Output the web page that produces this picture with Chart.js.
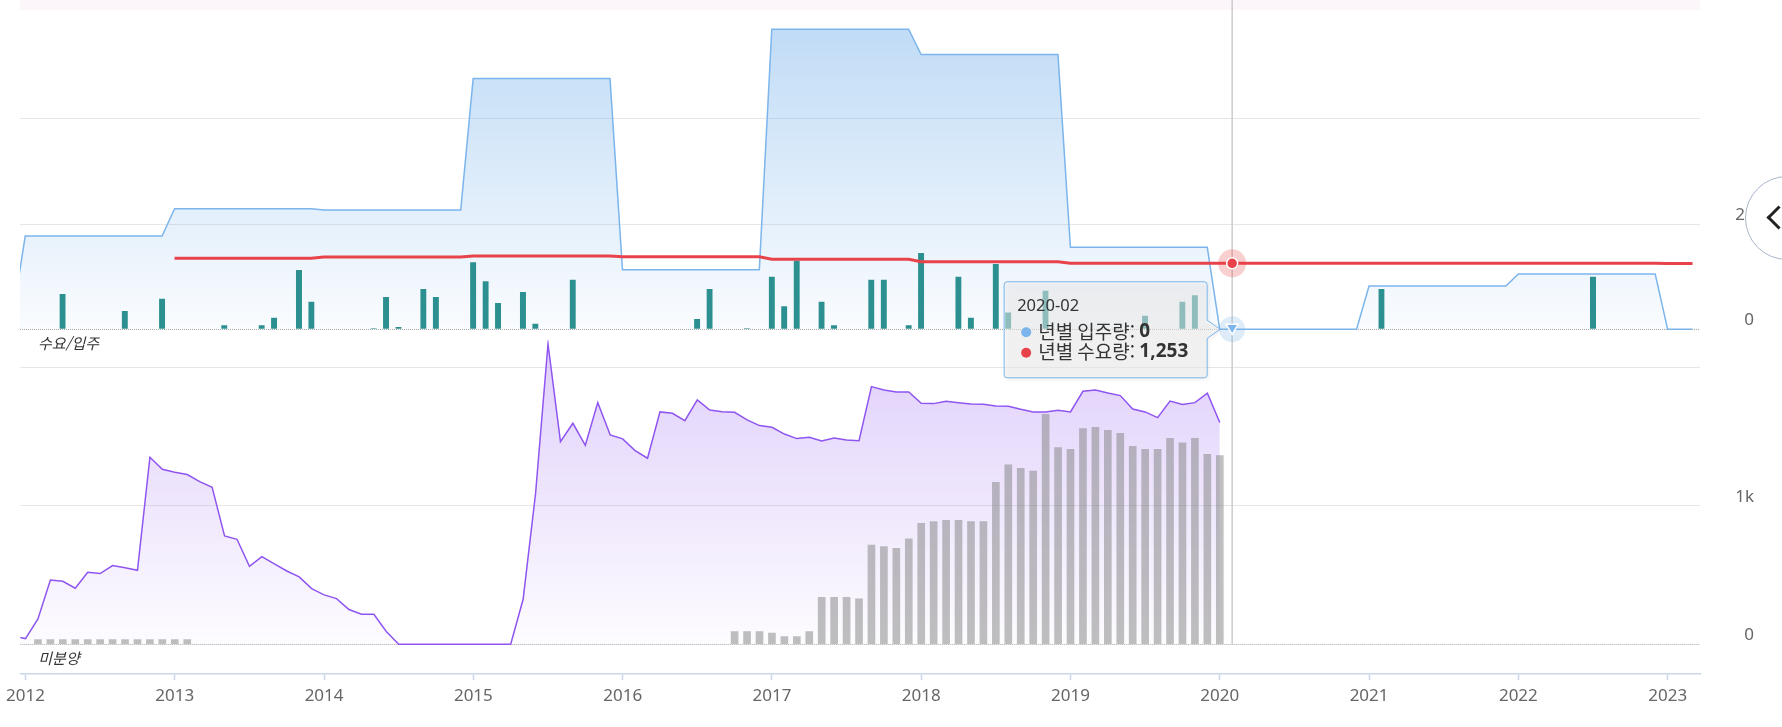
<!DOCTYPE html>
<html lang="ko">
<head>
<meta charset="utf-8">
<title>수요/입주 · 미분양</title>
<script src="https://cdn.jsdelivr.net/npm/chart.js@4.4.1/dist/chart.umd.min.js"></script>
<style>
  html, body { margin: 0; padding: 0; background: #fff; }
  #wrap { position: relative; width: 1782px; height: 727px; overflow: hidden; }
  .pane { position: absolute; left: 0; top: 0; width: 1782px; height: 727px; }
  #bottomPane { z-index: 1; }
  #topPane { z-index: 2; }
  #navBtn { position: absolute; z-index: 3; left: 1745px; top: 176px; width: 84px; height: 84px; border-radius: 50%;
            border: 1.5px solid #a9b5c9; background: #fff; box-sizing: border-box; }
  #navBtn::after { content: ''; position: absolute; left: 24px; top: 32px; width: 14px; height: 14px;
            border-left: 3px solid #222; border-bottom: 3px solid #222; transform: rotate(45deg); }
</style>
</head>
<body>
<div id="wrap">
  <div class="pane" id="bottomPane"><canvas id="bottomChart"></canvas></div>
  <div class="pane" id="topPane"><canvas id="topChart"></canvas></div>
  <div id="navBtn"></div>
</div>
<script>
// ---- data ----
const yearTicks = ['2012', '2013', '2014', '2015', '2016', '2017', '2018', '2019', '2020', '2021', '2022', '2023'];

// 년별 입주량 (annual move-in, blue area) - corner points of the stepped line
const annualSupplyMonths = ['2011-12', '2012-01', '2012-12', '2013-01', '2013-12', '2014-01', '2014-12', '2015-01',
  '2015-12', '2016-01', '2016-12', '2017-01', '2017-12', '2018-01', '2018-12', '2019-01', '2019-12', '2020-01',
  '2020-12', '2021-01', '2021-12', '2022-01', '2022-12', '2023-01', '2023-03'];
const annualSupplyValues = [260, 1770, 1770, 2290, 2290, 2266, 2266, 4762,
  4762, 1133, 1133, 5700, 5700, 5218, 5218, 1558, 1558, 0,
  0, 823, 823, 1051, 1051, 0, 0];

// 년별 수요량 (annual demand, red line)
const annualDemandMonths = ['2013-01', '2013-12', '2014-01', '2014-12', '2015-01', '2015-12', '2016-01', '2016-12',
  '2017-01', '2017-12', '2018-01', '2018-12', '2019-01', '2019-12', '2020-01', '2020-12', '2021-01', '2021-12',
  '2022-01', '2022-12', '2023-01', '2023-03'];
const annualDemandValues = [1348, 1348, 1374, 1374, 1393, 1393, 1378, 1378,
  1329, 1329, 1285, 1285, 1256, 1256, 1253, 1253, 1257, 1257,
  1256, 1256, 1250, 1250];

// monthly move-in (teal bars)
const moveInMonths = ['2012-04', '2012-09', '2012-12', '2013-05', '2013-08', '2013-09', '2013-11', '2013-12',
  '2014-05', '2014-06', '2014-07', '2014-09', '2014-10', '2015-01', '2015-02', '2015-03', '2015-05', '2015-06',
  '2015-09', '2016-07', '2016-08', '2016-11', '2017-01', '2017-02', '2017-03', '2017-05', '2017-06', '2017-09',
  '2017-10', '2017-12', '2018-01', '2018-04', '2018-05', '2018-07', '2018-08', '2018-11', '2019-07', '2019-10',
  '2019-11', '2021-02', '2022-07'];
const moveInValues = [684, 361, 595, 89, 89, 234, 1139, 538,
  19, 627, 57, 779, 627, 1285, 924, 513, 722, 120,
  956, 209, 779, 19, 1013, 449, 1317, 538, 89, 956,
  956, 89, 1462, 1013, 234, 1253, 334, 747, 272, 538,
  658, 779, 1013];

// 미분양 (unsold, purple) and completed unsold (gray bars), monthly from 2011-12
const unsoldStart = '2011-12';
const unsold = [60,
  41, 183, 465, 455, 405, 521, 511, 569, 554, 535, 1352, 1265,          // 2012
  1244, 1227, 1176, 1135, 783, 759, 564, 634, 581, 530, 487, 402,       // 2013
  357, 330, 251, 217, 217, 92, 0, 0, 0, 0, 0, 0,                        // 2014
  0, 0, 0, 0, 325, 1090, 2171, 1465, 1598, 1439, 1747, 1513,            // 2015
  1485, 1400, 1345, 1680, 1670, 1617, 1767, 1694, 1682, 1677, 1622, 1581, // 2016
  1569, 1520, 1487, 1497, 1470, 1492, 1477, 1472, 1863, 1839, 1824, 1824, // 2017
  1742, 1740, 1757, 1747, 1738, 1735, 1723, 1721, 1699, 1680, 1680, 1692, // 2018
  1680, 1829, 1839, 1817, 1798, 1701, 1680, 1639, 1759, 1733, 1747, 1815, // 2019
  1603];                                                                  // 2020-01
const completedUnsold = [null,
  null, 33, 33, 33, 33, 33, 33, 33, 33, 33, 33, 33,
  33, 33, null, null, null, null, null, null, null, null, null, null,
  null, null, null, null, null, null, null, null, null, null, null, null,
  null, null, null, null, null, null, null, null, null, null, null, null,
  null, null, null, null, null, null, null, null, null, 92, 92, 92,
  80, 55, 55, 92, 340, 340, 340, 328, 718, 706, 694, 762,
  875, 887, 897, 897, 887, 887, 1171, 1297, 1272, 1253, 1663, 1422,
  1410, 1559, 1569, 1547, 1526, 1432, 1410, 1410, 1489, 1456, 1489, 1374,
  1364];

const topTicks = [0, 2000, 4000];
const topTickLabels = ['0', '2k', ''];
const bottomTicks = [0, 1000, 2000];
const bottomTickLabels = ['0', '1k', ''];

const hoverMonth = '2020-02';

// ---- helpers ----
function monthIndex(s) {
  const [y, m] = s.split('-').map(Number);
  return (y - 2012) * 12 + (m - 1);
}
function toPoints(months, values) {
  return months.map((m, i) => ({ x: monthIndex(m), y: values[i] }));
}
function seriesFrom(start, values) {
  const s = monthIndex(start);
  return values.map((v, i) => ({ x: s + i, y: v }));
}
function valueAt(months, values, m) {
  const xs = months.map(monthIndex);
  for (let i = 0; i < xs.length - 1; i++) {
    if (m >= xs[i] && m <= xs[i + 1]) {
      const t = (m - xs[i]) / (xs[i + 1] - xs[i]);
      return values[i] + t * (values[i + 1] - values[i]);
    }
  }
  return null;
}

const FONT = "'Noto Sans', 'Noto Sans CJK KR', sans-serif";
const KFONT = "'Noto Sans CJK KR', 'Noto Sans', sans-serif";
const GRID = '#e6e6e6';

function vGradient(scaleId, topVal, botVal, c0, c1) {
  return function (ctx) {
    const chart = ctx.chart;
    const s = chart.scales[scaleId];
    if (!s || !chart.chartArea) return c1;
    const g = chart.ctx.createLinearGradient(0, s.getPixelForValue(topVal), 0, s.getPixelForValue(botVal));
    g.addColorStop(0, c0);
    g.addColorStop(1, c1);
    return g;
  };
}

function xAxis(show) {
  return {
    type: 'linear',
    display: show,
    min: -0.42,
    max: 134.6,
    offset: false,
    afterBuildTicks: s => { s.ticks = yearTicks.map(y => ({ value: monthIndex(y + '-01') })); },
    afterFit: s => { if (show) s.height = 53; },
    ticks: {
      callback: v => yearTicks[Math.round(v / 12)],
      autoSkip: false, maxRotation: 0, padding: 6,
      color: '#666', font: { size: 17 }
    },
    grid: { offset: false, drawOnChartArea: false, drawTicks: true, tickLength: 6, tickColor: '#ccd6eb', tickWidth: 1.5 },
    border: { display: true, color: '#ccd6eb', width: 1.5 }
  };
}

function yAxis(min, max, ticks, labels) {
  return {
    type: 'linear',
    position: 'right',
    min: min,
    max: max,
    afterBuildTicks: s => { s.ticks = ticks.map(v => ({ value: v })); },
    afterFit: s => { s.width = 54; },
    ticks: {
      callback: v => labels[ticks.indexOf(v)],
      crossAlign: 'far', padding: 0, labelOffset: -9,
      color: '#666', font: { size: 17 }
    },
    grid: { color: c => (c.tick && c.tick.value === 0) ? 'rgba(0,0,0,0)' : GRID, drawTicks: false },
    border: { display: false }
  };
}

function drawBaseline(chart, scaleId) {
  const { ctx, chartArea } = chart;
  const y = Math.round(chart.scales[scaleId].getPixelForValue(0)) + 0.5;
  ctx.save();
  ctx.strokeStyle = '#a8a8a8';
  ctx.lineWidth = 1;
  ctx.setLineDash([1, 1]);
  ctx.beginPath();
  ctx.moveTo(chartArea.left, y);
  ctx.lineTo(chartArea.right, y);
  ctx.stroke();
  ctx.restore();
}

function drawPaneTitle(chart, scaleId, text) {
  const { ctx, chartArea } = chart;
  ctx.save();
  ctx.font = 'italic 15px ' + KFONT;
  ctx.fillStyle = '#333';
  ctx.textBaseline = 'middle';
  ctx.fillText(text, chartArea.left + 18, chart.scales[scaleId].getPixelForValue(0) + 14);
  ctx.restore();
}

Chart.defaults.font.family = FONT;
Chart.defaults.color = '#666';

// ---------- bottom pane: 미분양 ----------
const bottomChart = new Chart(document.getElementById('bottomChart'), {
  type: 'line',
  data: {
    datasets: [
      {
        type: 'bar',
        label: '준공후 미분양',
        data: seriesFrom(unsoldStart, completedUnsold),
        yAxisID: 'y',
        backgroundColor: 'rgba(128,128,128,0.5)',
        barThickness: 7,
        grouped: false,
        order: 1
      },
      {
        label: '미분양',
        data: seriesFrom(unsoldStart, unsold),
        yAxisID: 'y',
        borderColor: '#8f55f0',
        borderWidth: 1.5,
        pointRadius: 0,
        fill: 'origin',
        backgroundColor: vGradient('y', 2200, 0, 'rgba(150,95,240,0.3)', 'rgba(150,95,240,0.02)'),
        order: 2
      }
    ]
  },
  options: {
    responsive: true,
    maintainAspectRatio: false,
    animation: false,
    events: [],
    layout: { padding: { top: 340, left: 20, right: 28, bottom: 0 } },
    plugins: { legend: { display: false }, tooltip: { enabled: false } },
    scales: {
      x: xAxis(true),
      y: yAxis(-215, 2200, bottomTicks, bottomTickLabels)
    }
  },
  plugins: [{
    id: 'bottomOverlay',
    beforeDatasetsDraw(chart) { drawBaseline(chart, 'y'); },
    afterDatasetsDraw(chart) { drawPaneTitle(chart, 'y', '미분양'); }
  }]
});

// ---------- top pane: 수요/입주 (with crosshair + tooltip) ----------
const topOverlay = {
  id: 'topOverlay',
  beforeDraw(chart) {
    const { ctx, chartArea } = chart;
    ctx.save();
    ctx.fillStyle = 'rgba(246,228,242,0.35)';
    ctx.fillRect(chartArea.left, 0, chartArea.right - chartArea.left, 10);
    ctx.restore();
  },
  beforeDatasetsDraw(chart) { drawBaseline(chart, 'y'); },
  afterDatasetsDraw(chart) {
    const { ctx, scales } = chart;
    drawPaneTitle(chart, 'y', '수요/입주');

    const m = monthIndex(hoverMonth);
    const x = scales.x.getPixelForValue(m);
    const y0 = scales.y.getPixelForValue(0);
    const yb0 = bottomChart.scales.y.getPixelForValue(0);

    ctx.save();
    // crosshair across both panes
    ctx.strokeStyle = '#cccccc';
    ctx.lineWidth = 1.5;
    ctx.beginPath();
    ctx.moveTo(x, 0);
    ctx.lineTo(x, yb0);
    ctx.stroke();

    const supplyV = valueAt(annualSupplyMonths, annualSupplyValues, m);
    const demandV = valueAt(annualDemandMonths, annualDemandValues, m);
    const yS = scales.y.getPixelForValue(supplyV);
    const yD = scales.y.getPixelForValue(demandV);

    // hover markers with halos
    ctx.fillStyle = 'rgba(233,64,69,0.25)';
    ctx.beginPath(); ctx.arc(x, yD, 14, 0, Math.PI * 2); ctx.fill();
    ctx.fillStyle = '#e8434b';
    ctx.strokeStyle = '#fff';
    ctx.lineWidth = 1.5;
    ctx.beginPath(); ctx.arc(x, yD, 5.5, 0, Math.PI * 2); ctx.fill(); ctx.stroke();

    ctx.fillStyle = 'rgba(124,181,236,0.25)';
    ctx.beginPath(); ctx.arc(x, yS, 13, 0, Math.PI * 2); ctx.fill();
    ctx.fillStyle = '#7cb5ec';
    ctx.beginPath();
    ctx.moveTo(x - 6, yS - 5);
    ctx.lineTo(x + 6, yS - 5);
    ctx.lineTo(x, yS + 5);
    ctx.closePath();
    ctx.fill(); ctx.stroke();

    // tooltip box with caret pointing at the hovered point
    const right = x - 25, left = right - 203, top = y0 - 47.5, bottom = y0 + 48.5, r = 3;
    ctx.beginPath();
    ctx.moveTo(left + r, top);
    ctx.lineTo(right - r, top);
    ctx.quadraticCurveTo(right, top, right, top + r);
    ctx.lineTo(right, y0 - 9);
    ctx.lineTo(x - 12, y0);
    ctx.lineTo(right, y0 + 9);
    ctx.lineTo(right, bottom - r);
    ctx.quadraticCurveTo(right, bottom, right - r, bottom);
    ctx.lineTo(left + r, bottom);
    ctx.quadraticCurveTo(left, bottom, left, bottom - r);
    ctx.lineTo(left, top + r);
    ctx.quadraticCurveTo(left, top, left + r, top);
    ctx.closePath();
    ctx.save();
    ctx.shadowColor = 'rgba(0,0,0,0.18)';
    ctx.shadowBlur = 4;
    ctx.shadowOffsetX = 1;
    ctx.shadowOffsetY = 1;
    ctx.fillStyle = 'rgba(247,247,247,0.5)';
    ctx.fill();
    ctx.restore();
    ctx.strokeStyle = '#7cb5ec';
    ctx.lineWidth = 1;
    ctx.stroke();

    ctx.fillStyle = '#333';
    ctx.textBaseline = 'middle';
    ctx.textAlign = 'left';
    ctx.font = '16.5px ' + FONT;
    ctx.fillText(hoverMonth, left + 13, y0 - 23);
    const rows = [
      { c: '#7cb5ec', t: '년별 입주량: ', v: Math.round(supplyV).toLocaleString('en-US'), y: y0 + 2 },
      { c: '#e8434b', t: '년별 수요량: ', v: Math.round(demandV).toLocaleString('en-US'), y: y0 + 22.5 }
    ];
    rows.forEach(rw => {
      ctx.fillStyle = rw.c;
      ctx.beginPath(); ctx.arc(left + 22, rw.y + 1, 5, 0, Math.PI * 2); ctx.fill();
      ctx.fillStyle = '#333';
      ctx.font = '19px ' + KFONT;
      ctx.fillText(rw.t, left + 34, rw.y);
      const w = ctx.measureText(rw.t).width;
      ctx.font = 'bold 19px ' + FONT;
      ctx.fillText(rw.v, left + 34 + w, rw.y);
    });
    ctx.restore();
  }
};

new Chart(document.getElementById('topChart'), {
  type: 'line',
  data: {
    datasets: [
      {
        label: '년별 수요량',
        data: toPoints(annualDemandMonths, annualDemandValues),
        yAxisID: 'y',
        borderColor: '#e8434b',
        borderWidth: 3,
        pointRadius: 0,
        fill: false,
        order: 1
      },
      {
        type: 'bar',
        label: '입주량',
        data: toPoints(moveInMonths, moveInValues),
        yAxisID: 'y',
        backgroundColor: '#2b908f',
        borderColor: 'rgba(255,255,255,0.35)',
        borderWidth: { top: 1, left: 0, right: 0, bottom: 0 },
        barThickness: 6,
        grouped: false,
        order: 2
      },
      {
        label: '년별 입주량',
        data: toPoints(annualSupplyMonths, annualSupplyValues),
        yAxisID: 'y',
        borderColor: '#7cb5ec',
        borderWidth: 1.5,
        pointRadius: 0,
        fill: 'origin',
        backgroundColor: vGradient('y', 6000, 0, 'rgba(124,181,236,0.5)', 'rgba(124,181,236,0.04)'),
        order: 3
      }
    ]
  },
  options: {
    responsive: true,
    maintainAspectRatio: false,
    animation: false,
    events: [],
    layout: { padding: { top: 13, left: 20, right: 28, bottom: 387 } },
    plugins: { legend: { display: false }, tooltip: { enabled: false } },
    scales: {
      x: xAxis(false),
      y: yAxis(-203, 6008, topTicks, topTickLabels)
    }
  },
  plugins: [topOverlay]
});
</script>
</body>
</html>
